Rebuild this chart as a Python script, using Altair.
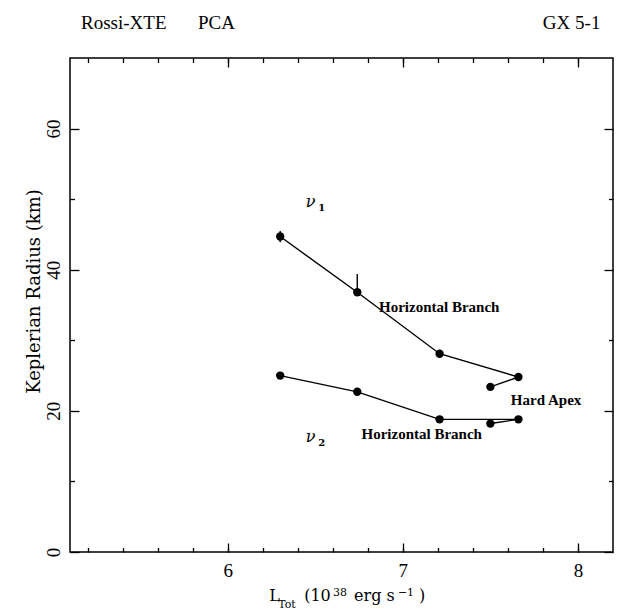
import altair as alt
import pandas as pd

# ---------------- data ----------------
lum = [6.30, 6.74, 7.21, 7.66, 7.50]            # L_Tot (1e38 erg/s)
radius_nu1 = [44.7, 36.8, 28.1, 24.8, 23.4]     # Keplerian radius from nu_1
err_hi_nu1 = [0.8, 2.6, 0.55, 0.2, 0.2]
err_lo_nu1 = [0.8, 0.45, 0.55, 0.2, 0.2]
radius_nu2 = [25.0, 22.7, 18.8, 18.8, 18.2]     # Keplerian radius from nu_2
err_hi_nu2 = [0.2, 0.3, 0.2, 0.2, 0.2]
err_lo_nu2 = [0.2, 0.3, 0.2, 0.2, 0.2]

x_domain = [5.1, 8.2]
y_domain = [0, 70]
x_major = [6, 7, 8]
x_minor = [5.2, 5.4, 5.6, 5.8, 6.0, 6.2, 6.4, 6.6, 6.8, 7.0, 7.2, 7.4, 7.6, 7.8, 8.0]
y_major = [0, 20, 40, 60]
y_minor = [10, 30, 50]

ann_text = ["Horizontal Branch", "Hard Apex", "Horizontal Branch"]
ann_x = [7.208, 7.818, 7.108]
ann_y = [34.7, 21.5, 16.65]

nu_x = [6.474, 6.474]
nu_y = [49.6, 16.3]
sub_text = ["1", "2"]
sub_x = [6.537, 6.537]
sub_y = [48.8, 15.4]

top_text = ["Rossi-XTE", "PCA", "GX 5-1"]
top_x = [5.163, 5.831, 8.128]
top_y = [74.17, 74.17, 74.17]
top_align = ["left", "left", "right"]

# x-axis title pieces: L_Tot (10^38 erg s^-1)
xt_text = ["L", "Tot", "(10", "38", "erg s", "\u22121", ")"]
xt_x = [6.238, 6.289, 6.437, 6.602, 6.722, 6.972, 7.092]
xt_y = [-6.94, -7.94, -6.94, -6.235, -6.94, -6.235, -6.94]
xt_size = [16, 11, 16, 11, 16, 11, 16]

ytitle_text = ["Keplerian Radius (km)"]
ytitle_x = [4.899]
ytitle_y = [36.91]

# ---------------- tables ----------------
rows = []
for i in range(len(lum)):
    rows.append(dict(L=lum[i], R=radius_nu1[i], lo=radius_nu1[i] - err_lo_nu1[i],
                     hi=radius_nu1[i] + err_hi_nu1[i], series="nu1", idx=i))
for i in range(len(lum)):
    rows.append(dict(L=lum[i], R=radius_nu2[i], lo=radius_nu2[i] - err_lo_nu2[i],
                     hi=radius_nu2[i] + err_hi_nu2[i], series="nu2", idx=i))
df = pd.DataFrame(rows)

ann_df = pd.DataFrame(dict(t=ann_text, x=ann_x, y=ann_y))
nu_df = pd.DataFrame(dict(t=["\u03bd", "\u03bd"], x=nu_x, y=nu_y))
sub_df = pd.DataFrame(dict(t=sub_text, x=sub_x, y=sub_y))
top_df = pd.DataFrame(dict(t=top_text, x=top_x, y=top_y, a=top_align))
xt_df = pd.DataFrame(dict(t=xt_text, x=xt_x, y=xt_y, s=xt_size))
yt_df = pd.DataFrame(dict(t=ytitle_text, x=ytitle_x, y=ytitle_y))

xscale = alt.Scale(domain=x_domain, nice=False, zero=False)
yscale = alt.Scale(domain=y_domain, nice=False, zero=False)

LBL_FONT = "Liberation Serif"
common = dict(domain=False, grid=False, title=None, tickColor="black", tickWidth=1.3)

ax_b_major = alt.Axis(values=x_major, orient="bottom", offset=-9, tickSize=9, labels=True,
                      labelFont=LBL_FONT, labelFontSize=19, labelColor="black",
                      labelPadding=9, labelBaseline="top", format="d", **common)
ax_b_minor = alt.Axis(values=x_minor, orient="bottom", offset=-4.5, tickSize=4.5,
                      labels=False, **common)
ax_t_major = alt.Axis(values=x_major, orient="top", offset=-9, tickSize=9, labels=False, **common)
ax_t_minor = alt.Axis(values=x_minor, orient="top", offset=-4.5, tickSize=4.5,
                      labels=False, **common)
ax_l_major = alt.Axis(values=y_major, orient="left", offset=-9, tickSize=9, labels=True,
                      labelFont=LBL_FONT, labelFontSize=19, labelColor="black",
                      labelAngle=270, labelAlign="center", labelBaseline="alphabetic",
                      labelPadding=11, format="d", **common)
ax_l_minor = alt.Axis(values=y_minor, orient="left", offset=-4.5, tickSize=4.5,
                      labels=False, **common)
ax_r_major = alt.Axis(values=y_major, orient="right", offset=-9, tickSize=9, labels=False, **common)
ax_r_minor = alt.Axis(values=y_minor, orient="right", offset=-4.5, tickSize=4.5,
                      labels=False, **common)


def X(field="L", axis=None):
    return alt.X(f"{field}:Q", scale=xscale, axis=axis)


def Y(field="R", axis=None):
    return alt.Y(f"{field}:Q", scale=yscale, axis=axis)


base = alt.Chart(df)

line1 = base.transform_filter(alt.datum.series == "nu1").mark_line(
    color="black", strokeWidth=1.4).encode(
    x=X("L", ax_b_major), y=Y("R", ax_l_major), order="idx:Q")
line2 = base.transform_filter(alt.datum.series == "nu2").mark_line(
    color="black", strokeWidth=1.4).encode(
    x=X("L", ax_b_minor), y=Y("R", ax_l_minor), order="idx:Q")
pts = base.mark_circle(color="black", opacity=1, size=70).encode(
    x=X("L", ax_t_major), y=Y("R", ax_r_major))
errs = base.mark_rule(color="black", strokeWidth=1.4).encode(
    x=X("L", ax_t_minor), y=Y("lo", ax_r_minor), y2="hi:Q")

ann = alt.Chart(ann_df).mark_text(font=LBL_FONT, fontSize=15, fontWeight="bold",
                                  color="black", align="center", baseline="middle").encode(
    x=X("x"), y=Y("y"), text="t:N")
nu = alt.Chart(nu_df).mark_text(font="DejaVu Serif", fontSize=16, fontStyle="italic",
                                color="black", align="center", baseline="middle").encode(
    x=X("x"), y=Y("y"), text="t:N")
sub = alt.Chart(sub_df).mark_text(font="DejaVu Serif", fontSize=10, fontWeight="bold",
                                  color="black", align="center", baseline="middle").encode(
    x=X("x"), y=Y("y"), text="t:N")
top_l = alt.Chart(top_df).transform_filter(alt.datum.a == "left").mark_text(
    font=LBL_FONT, fontSize=19, color="black", align="left", baseline="alphabetic").encode(
    x=X("x"), y=Y("y"), text="t:N")
top_r = alt.Chart(top_df).transform_filter(alt.datum.a == "right").mark_text(
    font=LBL_FONT, fontSize=19, color="black", align="right", baseline="alphabetic").encode(
    x=X("x"), y=Y("y"), text="t:N")
xtitle = alt.Chart(xt_df).mark_text(font="DejaVu Serif", color="black", align="left",
                                    baseline="alphabetic").encode(
    x=X("x"), y=Y("y"), text="t:N", size=alt.Size("s:Q", scale=None, legend=None))
ytitle = alt.Chart(yt_df).mark_text(font="DejaVu Serif", fontSize=18, color="black",
                                    angle=270, align="center", baseline="middle").encode(
    x=X("x"), y=Y("y"), text="t:N")

chart = alt.layer(
    line1, line2, pts, errs, ann, nu, sub, top_l, top_r, xtitle, ytitle
).resolve_axis(x="independent", y="independent").properties(
    width=543, height=494,
    autosize=alt.AutoSizeParams(type="none"),
    padding={"left": 62, "top": 50, "right": 2, "bottom": 61},
    background="white",
).configure_view(stroke="black", strokeWidth=1.5)

chart.save("out.html", embed_options={"renderer": "svg", "actions": False})
